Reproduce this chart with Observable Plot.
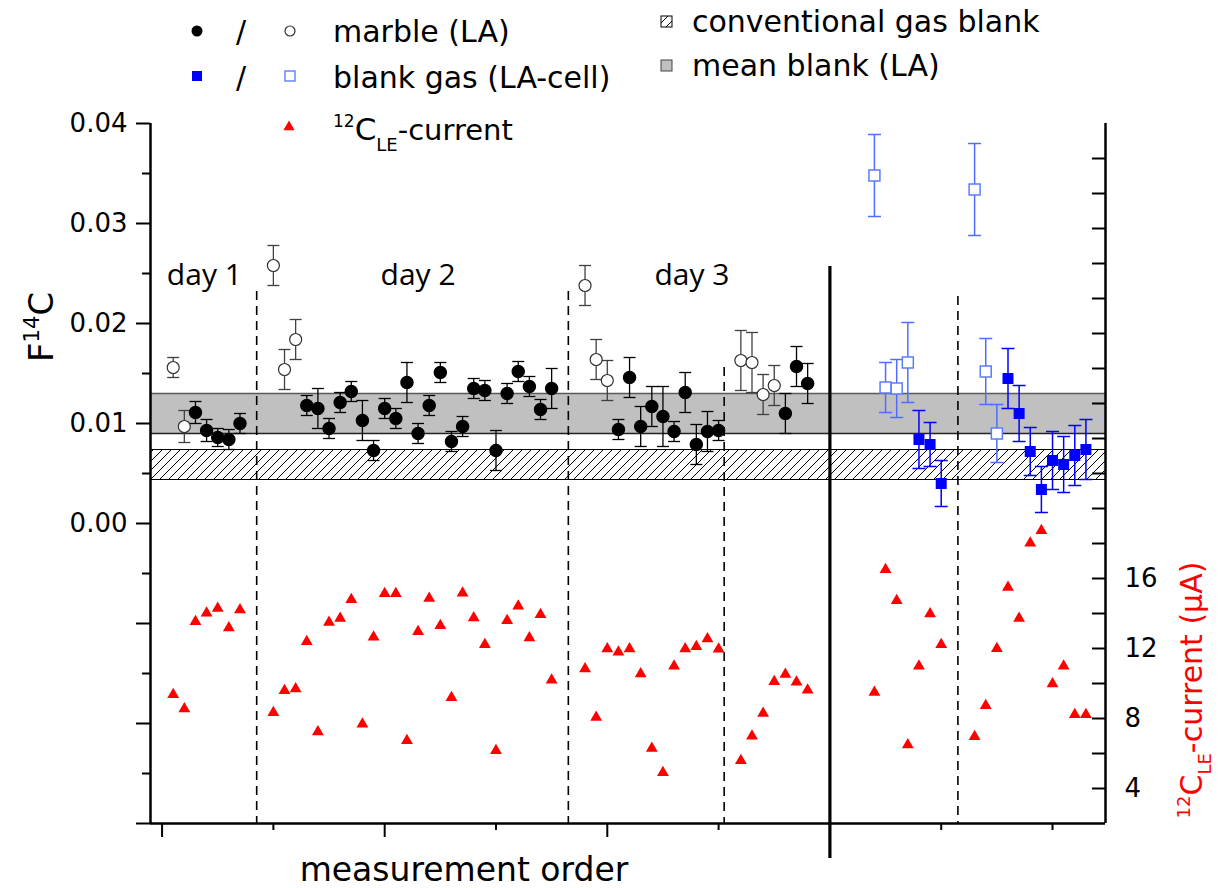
<!DOCTYPE html>
<html>
<head>
<meta charset="utf-8">
<script src="https://cdn.jsdelivr.net/npm/d3@7"></script>
<script src="https://cdn.jsdelivr.net/npm/@observablehq/plot@0.6"></script>
<style>
html,body{margin:0;padding:0;background:#fff;}
#chart{width:1219px;height:888px;}
</style>
</head>
<body>
<div id="chart"></div>
<script>
// ---------- data ----------
// marble (LA): measurement order, F14C, 1-sigma, open symbol (1) or filled (0)
const marbleOrder = [1,2,3,4,5,6,7, 10,11,12,13,14,15,16,17,18,19,20,21,22,23,24,25,26,27,28,29,30,31,32,33,34,35, 38,39,40,41,42,43,44,45,46,47,48,49,50, 52,53,54,55,56,57,58];
const marbleF14C  = [0.0156,0.0097,0.0111,0.0093,0.0086,0.0084,0.0100, 0.0258,0.0154,0.0184,0.0118,0.0115,0.0095,0.0121,0.0132,0.0103,0.0073,0.0115,0.0105,0.0141,0.0090,0.0118,0.0151,0.0082,0.0097,0.0135,0.0133,0.0073,0.0130,0.0152,0.0137,0.0114,0.0135, 0.0238,0.0164,0.0143,0.0094,0.0146,0.0097,0.0117,0.0107,0.0092,0.0131,0.0079,0.0092,0.0093, 0.0163,0.0161,0.0129,0.0138,0.0110,0.0157,0.0140];
const marbleErr   = [0.0010,0.0016,0.0011,0.0011,0.0009,0.0010,0.0010, 0.0020,0.0020,0.0020,0.0010,0.0020,0.0010,0.0010,0.0010,0.0020,0.0010,0.0010,0.0010,0.0020,0.0010,0.0010,0.0010,0.0010,0.0010,0.0010,0.0010,0.0020,0.0010,0.0010,0.0010,0.0010,0.0020, 0.0020,0.0020,0.0020,0.0010,0.0020,0.0020,0.0020,0.0030,0.0010,0.0020,0.0020,0.0020,0.0010, 0.0030,0.0030,0.0020,0.0020,0.0020,0.0020,0.0020];
const marbleOpen  = [1,1,0,0,0,0,0, 1,1,1,0,0,0,0,0,0,0,0,0,0,0,0,0,0,0,0,0,0,0,0,0,0,0, 1,1,1,0,0,0,0,0,0,0,0,0,0, 1,1,1,1,0,0,0];

// blank gas (LA-cell)
const blankOrder = [64,65,66,67,68,69,70, 73,74,75,76,77,78,79,80,81,82,83];
const blankF14C  = [0.0348,0.0136,0.0135,0.0161,0.0084,0.0079,0.0040, 0.0334,0.0152,0.0090,0.0145,0.0110,0.0072,0.0034,0.0063,0.0059,0.0068,0.0074];
const blankErr   = [0.0041,0.0025,0.0029,0.0040,0.0029,0.0022,0.0023, 0.0046,0.0033,0.0029,0.0030,0.0028,0.0024,0.0023,0.0029,0.0028,0.0030,0.0030];
const blankOpen  = [1,1,1,1,0,0,0, 1,1,1,0,0,0,0,0,0,0,0];

// 12C LE-current (µA)
const currentOrder = [1,2,3,4,5,6,7, 10,11,12,13,14,15,16,17,18,19,20,21,22,23,24,25,26,27,28,29,30,31,32,33,34,35, 38,39,40,41,42,43,44,45,46,47,48,49,50, 52,53,54,55,56,57,58, 64,65,66,67,68,69,70, 73,74,75,76,77,78,79,80,81,82,83];
const currentUA = [9.37,8.55,13.54,14.02,14.3,13.18,14.21, 8.34,9.6,9.7,12.4,7.24,13.5,13.73,14.8,7.68,12.65,15.14,15.14,6.74,12.97,14.87,13.31,9.2,15.16,13.75,12.23,6.17,13.6,14.42,12.61,13.94,10.19, 10.84,8.06,11.98,11.79,11.98,10.55,6.3,4.91,10.99,11.98,12.11,12.55,11.96, 5.6,6.99,8.3,10.11,10.53,10.08,9.62, 9.49,16.51,14.74,6.5,10.99,13.98,12.23, 6.97,8.74,12.0,15.5,13.73,18.02,18.74,9.98,10.99,8.23,8.23];

// blank levels (F14C)
const meanBlankLA  = [0.009, 0.013];
const convGasBlank = [0.0044, 0.0074];

// day labels and separators (measurement order / F14C)
const dayLabels = ["day 1", "day 2", "day 3"];
const dayOrder  = [3.8, 23.0, 47.6];
const dayLevel  = 0.0248;
const dashedOrder = [8.5, 36.5, 50.5, 71.5];
const dashedTop   = [0.0232, 0.0232, 0.0156, 0.0227];
const breakOrder  = [60];
const breakTop    = [0.0257];
const breakBottom = [-0.0335];

// scales & ticks
const xDomain = [-1.04, 84.76];
const yDomain = [-0.03, 0.04];
const currentDomain = [2, 42];
const xTicksMajor = [0, 20, 40, 60];
const xTicksMinor = [10, 30, 50, 70, 80];
const yTicksMajor = [-0.03, -0.02, -0.01, 0, 0.01, 0.02, 0.03, 0.04];
const yTicksMinor = [-0.025, -0.015, -0.005, 0.005, 0.015, 0.025, 0.035];
const currentTicks = [4,6,8,10,12,14,16,18,20,22,24,26,28,30,32,34,36,38,40];
const currentLabels = [4, 8, 12, 16];

// ---------- build ----------
const toF = c => yDomain[0] + (c - currentDomain[0]) / (currentDomain[1] - currentDomain[0]) * (yDomain[1] - yDomain[0]);
const fromF = v => currentDomain[0] + (v - yDomain[0]) / (yDomain[1] - yDomain[0]) * (currentDomain[1] - currentDomain[0]);

const marble = marbleOrder.map((x, i) => ({x, y: marbleF14C[i], lo: marbleF14C[i] - marbleErr[i], hi: marbleF14C[i] + marbleErr[i], open: marbleOpen[i] === 1}));
const blank = blankOrder.map((x, i) => ({x, y: blankF14C[i], lo: blankF14C[i] - blankErr[i], hi: blankF14C[i] + blankErr[i], open: blankOpen[i] === 1}));
const current = currentOrder.map((x, i) => ({x, y: toF(currentUA[i])}));
const days = dayLabels.map((t, i) => ({t, x: dayOrder[i], y: dayLevel}));
const dashed = dashedOrder.map((x, i) => ({x, top: dashedTop[i]}));
const breaks = breakOrder.map((x, i) => ({x, top: breakTop[i], bottom: breakBottom[i]}));

const cap = {draw(c, size) { const r = Math.sqrt(size / Math.PI); c.moveTo(-r, 0); c.lineTo(r, 0); }};
function errMarks(data, color, w, capR) {
  return [
    Plot.ruleX(data, {x: "x", y1: "lo", y2: "hi", stroke: color, strokeWidth: w}),
    Plot.dot(data, {x: "x", y: "hi", symbol: cap, r: capR, stroke: color, strokeWidth: w, fill: "none"}),
    Plot.dot(data, {x: "x", y: "lo", symbol: cap, r: capR, stroke: color, strokeWidth: w, fill: "none"})
  ];
}

// hatched band drawn through the plot's own scales
function hatchBand(index, scales) {
  const g = d3.create("svg:g").attr("aria-label", "conventional gas blank");
  const defs = g.append("defs");
  const pat = defs.append("pattern").attr("id", "hatch").attr("patternUnits", "userSpaceOnUse").attr("width", 9).attr("height", 9);
  pat.append("rect").attr("width", 9).attr("height", 9).attr("fill", "#fff");
  pat.append("path").attr("d", "M-1,1 l2,-2 M0,9 l9,-9 M8,10 l2,-2").attr("stroke", "#000").attr("stroke-width", 1).attr("fill", "none");
  const xa = scales.x(xDomain[0]), xb = scales.x(xDomain[1]);
  const ya = scales.y(convGasBlank[1]), yb = scales.y(convGasBlank[0]);
  g.append("rect").attr("x", xa).attr("y", ya).attr("width", xb - xa).attr("height", yb - ya).attr("fill", "url(#hatch)");
  return g.node();
}

const plot = Plot.plot({
  width: 1219, height: 888,
  marginLeft: 150, marginRight: 114, marginTop: 123, marginBottom: 65,
  x: {domain: xDomain},
  y: {domain: yDomain},
  style: {fontFamily: "DejaVu Sans", fontSize: "26px", color: "#000", background: "#fff", overflow: "visible"},
  marks: [
    Plot.rect([{lo: meanBlankLA[0], hi: meanBlankLA[1]}], {x1: () => xDomain[0], x2: () => xDomain[1], y1: "lo", y2: "hi", fill: "#c0c0c0"}),
    hatchBand,
    Plot.ruleY([meanBlankLA[1]], {stroke: "#5a5a5a", strokeWidth: 1.5}),
    Plot.ruleY([meanBlankLA[0]], {stroke: "#222", strokeWidth: 1.3}),
    Plot.ruleY(convGasBlank, {stroke: "#000", strokeWidth: 1.2}),
    Plot.ruleX(dashed, {x: "x", y1: "top", y2: () => yDomain[0], stroke: "#000", strokeWidth: 1.6, strokeDasharray: "9,6"}),
    Plot.ruleX(breaks, {x: "x", y1: "top", y2: "bottom", stroke: "#000", strokeWidth: 3.2}),
    Plot.text(days, {x: "x", y: "y", text: "t", fontSize: 30, fontFamily: "Open Sans", fill: "#000"}),
    ...errMarks(marble.filter(d => d.open), "#404040", 1.3, 6),
    ...errMarks(marble.filter(d => !d.open), "#000", 1.3, 6),
    ...errMarks(blank.filter(d => d.open), "#4d6dff", 1.5, 6.5),
    ...errMarks(blank.filter(d => !d.open), "#0000ff", 1.5, 6.5),
    Plot.dot(marble.filter(d => d.open), {x: "x", y: "y", r: 6, fill: "#fff", stroke: "#303030", strokeWidth: 1.2}),
    Plot.dot(marble.filter(d => !d.open), {x: "x", y: "y", r: 6, fill: "#000", stroke: "#000"}),
    Plot.dot(blank.filter(d => d.open), {x: "x", y: "y", r: 6.2, symbol: "square", fill: "#fff", stroke: "#5c7cff", strokeWidth: 1.5}),
    Plot.dot(blank.filter(d => !d.open), {x: "x", y: "y", r: 6.2, symbol: "square", fill: "#0000ff", stroke: "none"}),
    Plot.dot(current, {x: "x", y: "y", r: 4.4, symbol: "triangle", fill: "#ff0000", stroke: "none"}),
    // axes
    Plot.axisY(yTicksMajor, {anchor: "left", tickSize: 14, tickPadding: 9, strokeWidth: 2, tickFormat: v => v > -1e-9 ? v.toFixed(2) : "", label: null}),
    Plot.axisY(yTicksMinor, {anchor: "left", tickSize: 8, strokeWidth: 2, tickFormat: () => "", label: null}),
    Plot.axisY(currentTicks.map(toF), {anchor: "right", tickSize: 14, dx: -14, strokeWidth: 2, tickFormat: () => "", label: null}),
    Plot.axisY(currentLabels.map(toF), {anchor: "right", tickSize: 0, tickPadding: 19, tickFormat: v => String(Math.round(fromF(v))), label: null}),
    Plot.axisX(xTicksMajor, {tickSize: 14, strokeWidth: 2, tickFormat: () => "", label: null}),
    Plot.axisX(xTicksMinor, {tickSize: 7, strokeWidth: 2, tickFormat: () => "", label: null}),
    Plot.ruleX(xDomain, {stroke: "#000", strokeWidth: 2.5}),
    Plot.ruleY([yDomain[0]], {stroke: "#000", strokeWidth: 2.5})
  ]
});
document.getElementById("chart").appendChild(plot);

// ---------- titles, legend ----------
const svg = d3.select(plot);

const fT = svg.append("text").attr("transform", "translate(53,327) rotate(-90)").attr("text-anchor", "middle").attr("font-size", 34).attr("fill", "#000");
fT.append("tspan").text("F");
fT.append("tspan").attr("font-size", 21).attr("dy", -14).text("14");
fT.append("tspan").attr("dy", 14).text("C");

const cT = svg.append("text").attr("transform", "translate(1202,690) rotate(-90)").attr("text-anchor", "middle").attr("font-size", 30).attr("fill", "#ff0000");
cT.append("tspan").attr("font-size", 18).attr("dy", -12).text("12");
cT.append("tspan").attr("dy", 12).text("C");
cT.append("tspan").attr("font-size", 18).attr("dy", 9).text("LE");
cT.append("tspan").attr("dy", -9).text("-current (µA)");

svg.append("text").attr("x", 464).attr("y", 881).attr("text-anchor", "middle").attr("font-size", 33).attr("fill", "#000").text("measurement order");

// legend
const lg = svg.append("g").attr("font-size", 30).attr("fill", "#000").attr("text-anchor", "start");
lg.append("circle").attr("cx", 197).attr("cy", 31).attr("r", 5.5).attr("fill", "#000");
lg.append("text").attr("x", 241).attr("y", 42).attr("text-anchor", "middle").text("/");
lg.append("circle").attr("cx", 290).attr("cy", 31).attr("r", 5).attr("fill", "#fff").attr("stroke", "#333").attr("stroke-width", 1.2);
lg.append("text").attr("x", 333).attr("y", 42).text("marble (LA)");

lg.append("rect").attr("x", 192).attr("y", 71).attr("width", 10).attr("height", 10).attr("fill", "#0000ff");
lg.append("text").attr("x", 241).attr("y", 88).attr("text-anchor", "middle").text("/");
lg.append("rect").attr("x", 285).attr("y", 71).attr("width", 10).attr("height", 10).attr("fill", "#fff").attr("stroke", "#5c7cff").attr("stroke-width", 1.4);
lg.append("text").attr("x", 333).attr("y", 88).text("blank gas (LA-cell)");

lg.append("path").attr("transform", "translate(289,127)").attr("d", d3.symbol(d3.symbolTriangle, 55)()).attr("fill", "#ff0000");
const lt = lg.append("text").attr("x", 333).attr("y", 140);
lt.append("tspan").attr("font-size", 17).attr("dy", -13).text("12");
lt.append("tspan").attr("font-size", 31).attr("dy", 13).text("C");
lt.append("tspan").attr("font-size", 18).attr("dy", 11).text("LE");
lt.append("tspan").attr("font-size", 29).attr("dy", -11).text("-current");

lg.append("rect").attr("x", 661).attr("y", 16).attr("width", 11).attr("height", 11).attr("fill", "url(#hatch)").attr("stroke", "#000").attr("stroke-width", 1);
lg.append("text").attr("x", 692).attr("y", 32).text("conventional gas blank");
lg.append("rect").attr("x", 661).attr("y", 60).attr("width", 11).attr("height", 11).attr("fill", "#c0c0c0").attr("stroke", "#444").attr("stroke-width", 1);
lg.append("text").attr("x", 692).attr("y", 76).text("mean blank (LA)");
</script>
</body>
</html>
